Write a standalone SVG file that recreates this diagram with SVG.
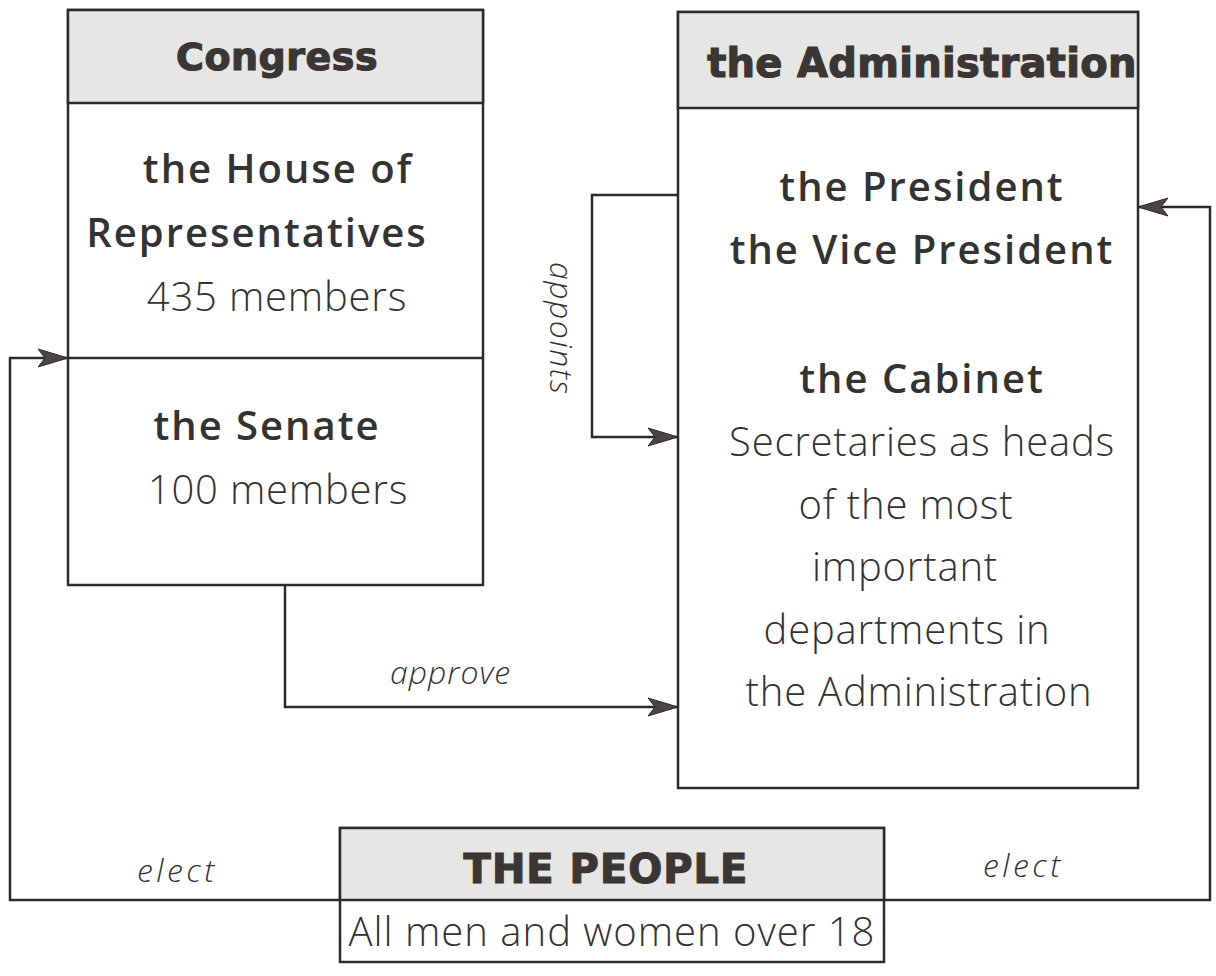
<svg xmlns="http://www.w3.org/2000/svg" width="1216" height="976" viewBox="0 0 1216 976">
<defs>
<marker id="arr" viewBox="0 0 30 20" refX="30" refY="10" markerWidth="30" markerHeight="20" markerUnits="userSpaceOnUse" orient="auto">
<path d="M0,1 L30,10 L0,19 L7,10 Z" fill="#4a4541" stroke="#2a2a2a" stroke-width="1"/>
</marker>
</defs>
<style>
.box{fill:#fff;stroke:#2b2b2b;stroke-width:2.5}
.hdr{fill:#e6e6e4;stroke:#2b2b2b;stroke-width:2.5}
.line{fill:none;stroke:#2b2b2b;stroke-width:2.5}
.h{font-family:"DejaVu Sans","Open Sans",sans-serif;font-weight:700;fill:#3a3634;stroke:#3a3634;stroke-width:1.2;text-anchor:middle}
.b{font-family:"Open Sans","Noto Sans",sans-serif;font-weight:600;fill:#333;text-anchor:middle;font-size:40px;letter-spacing:2px}
.l{font-family:"Open Sans","Noto Sans",sans-serif;font-weight:300;fill:#333;text-anchor:middle;font-size:40px;letter-spacing:0.8px}
.i{font-family:"Open Sans","Noto Sans",sans-serif;font-weight:300;font-style:italic;fill:#333;font-size:32px;letter-spacing:1px}
</style>
<rect width="1216" height="976" fill="#fff"/>
<g id="connectors">
<path class="line" d="M340,900 H10 V358 H68" marker-end="url(#arr)"/>
<path class="line" d="M884,900 H1210 V207 H1138" marker-end="url(#arr)"/>
<path class="line" d="M678,195 H592 V437 H678" marker-end="url(#arr)"/>
<path class="line" d="M285,585 V707 H678" marker-end="url(#arr)"/>
<text class="i" x="390" y="684">approve</text>
<text class="i" x="550" y="262" transform="rotate(90 550 262)" style="letter-spacing:1.5px">appoints</text>
<text class="i" x="137" y="882" style="letter-spacing:3.5px">elect</text>
<text class="i" x="983" y="877" style="letter-spacing:3.5px">elect</text>
</g>
<g id="congress">
<rect class="box" x="68" y="10" width="415" height="575"/>
<rect class="hdr" x="68" y="10" width="415" height="93"/>
<line class="line" x1="68" y1="358" x2="483" y2="358"/>
<text class="h" x="277" y="70" font-size="38" style="letter-spacing:0.5px">Congress</text>
<text class="b" x="278" y="183">the House of</text>
<text class="b" x="257" y="247">Representatives</text>
<text class="l" x="277" y="311">435 members</text>
<text class="b" x="267" y="440">the Senate</text>
<text class="l" x="278" y="504">100 members</text>
</g>
<g id="administration">
<rect class="box" x="678" y="12" width="460" height="776"/>
<rect class="hdr" x="678" y="12" width="460" height="96"/>
<text class="h" x="922" y="77" font-size="40" style="letter-spacing:0.3px">the Administration</text>
<text class="b" x="922" y="201">the President</text>
<text class="b" x="922" y="264">the Vice President</text>
<text class="b" x="922" y="393">the Cabinet</text>
<text class="l" x="922" y="456">Secretaries as heads</text>
<text class="l" x="906" y="519">of the most</text>
<text class="l" x="905" y="581">important</text>
<text class="l" x="907" y="644">departments in</text>
<text class="l" x="919" y="706">the Administration</text>
</g>
<g id="people">
<rect class="box" x="340" y="828" width="544" height="134"/>
<rect class="hdr" x="340" y="828" width="544" height="72"/>
<text class="h" x="606" y="883" font-size="40" fill="#222" stroke="#222" style="letter-spacing:1px">THE PEOPLE</text>
<text class="l" x="612" y="946" style="letter-spacing:1px">All men and women over 18</text>
</g>
</svg>
